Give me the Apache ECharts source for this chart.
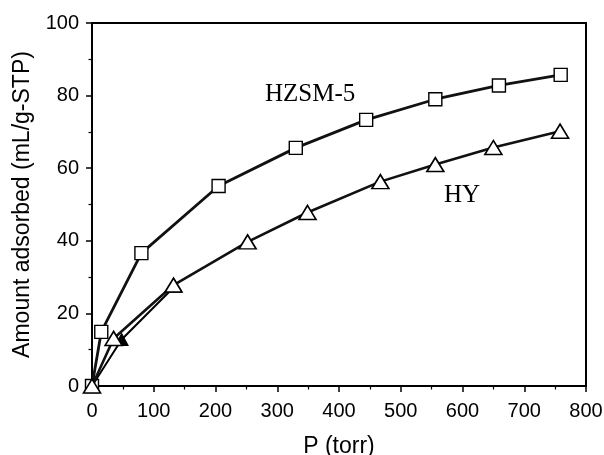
<!DOCTYPE html>
<html>
<head>
<meta charset="utf-8">
<script src="https://cdn.jsdelivr.net/npm/echarts@6/dist/echarts.min.js"></script>
<style>html,body{margin:0;padding:0;background:#fff}#c{width:604px;height:455px}</style>
</head>
<body>
<div id="c"></div>
<script>
// Data
const hzsmP = [0, 15, 80, 205, 330, 444, 556, 659, 759];
const hzsmV = [0, 14.9, 36.6, 55.1, 65.6, 73.3, 79.0, 82.8, 85.7];
const hyP = [0, 35, 132, 252, 349, 467, 556, 650, 758];
const hyV = [0, 13.1, 27.8, 39.7, 47.8, 56.3, 61.0, 65.7, 70.2];
// second (overlapping) trace visible near the origin for HY
const hy2P = [0, 48, 134];
const hy2V = [0, 12.8, 27.5];
const xTicks = [0, 100, 200, 300, 400, 500, 600, 700, 800];
const yTicks = [0, 20, 40, 60, 80, 100];
const labelHZSM = 'HZSM-5';
const labelHY = 'HY';

const zip = (a, b) => a.map((v, i) => [v, b[i]]);
const chart = echarts.init(document.getElementById('c'), null, {renderer: 'canvas'});
const sans = 'Liberation Sans, Arial, sans-serif';
const serif = 'Liberation Serif, Times New Roman, serif';
chart.setOption({
  animation: false,
  backgroundColor: '#fff',
  grid: {left: 92, right: 18, top: 23, bottom: 69, show: true, borderColor: '#000', borderWidth: 2,
         backgroundColor: 'transparent', containLabel: false, outerBoundsMode: 'none'},
  xAxis: {
    type: 'value', min: xTicks[0], max: xTicks[xTicks.length - 1], interval: 100,
    name: 'P (torr)', nameLocation: 'middle', nameGap: 49,
    nameTextStyle: {fontFamily: sans, fontSize: 23, color: '#000'},
    axisLine: {show: true, lineStyle: {color: '#000', width: 2}},
    axisTick: {show: true, inside: false, length: 6, lineStyle: {color: '#000', width: 1.5}},
    minorTick: {show: true, splitNumber: 2, length: 3.5, lineStyle: {color: '#000', width: 1.2}},
    axisLabel: {fontFamily: sans, fontSize: 20, color: '#000', margin: 15},
    splitLine: {show: false}
  },
  yAxis: {
    type: 'value', min: yTicks[0], max: yTicks[yTicks.length - 1], interval: 20,
    name: 'Amount adsorbed (mL/g-STP)', nameLocation: 'middle', nameGap: 58, nameRotate: 90,
    nameTextStyle: {fontFamily: sans, fontSize: 23, color: '#000'},
    axisLine: {show: true, lineStyle: {color: '#000', width: 2}},
    axisTick: {show: true, inside: false, length: 6, lineStyle: {color: '#000', width: 1.5}},
    minorTick: {show: true, splitNumber: 2, length: 3.5, lineStyle: {color: '#000', width: 1.2}},
    axisLabel: {fontFamily: sans, fontSize: 20, color: '#000', margin: 13},
    splitLine: {show: false}
  },
  series: [
    {
      name: labelHZSM, type: 'line', data: zip(hzsmP, hzsmV),
      lineStyle: {color: '#111', width: 2.8}, symbol: 'rect', symbolSize: 13,
      itemStyle: {color: '#fff', borderColor: '#000', borderWidth: 1.4}, z: 2
    },
    {
      name: labelHY + ' trace', type: 'line', data: zip(hy2P, hy2V),
      lineStyle: {color: '#000', width: 2}, symbol: 'triangle', symbolSize: [13, 12],
      itemStyle: {color: '#000', borderColor: '#000', borderWidth: 1}, z: 3
    },
    {
      name: labelHY, type: 'line', data: zip(hyP, hyV),
      lineStyle: {color: '#111', width: 2.6}, symbol: 'triangle', symbolSize: [17, 14],
      itemStyle: {color: '#fff', borderColor: '#000', borderWidth: 1.6}, z: 4
    }
  ],
  graphic: [
    {type: 'text', left: 265, top: 82, style: {text: labelHZSM, font: '25px ' + serif, fill: '#000'}},
    {type: 'text', left: 444, top: 183, style: {text: labelHY, font: '25px ' + serif, fill: '#000'}}
  ]
});
</script>
</body>
</html>
